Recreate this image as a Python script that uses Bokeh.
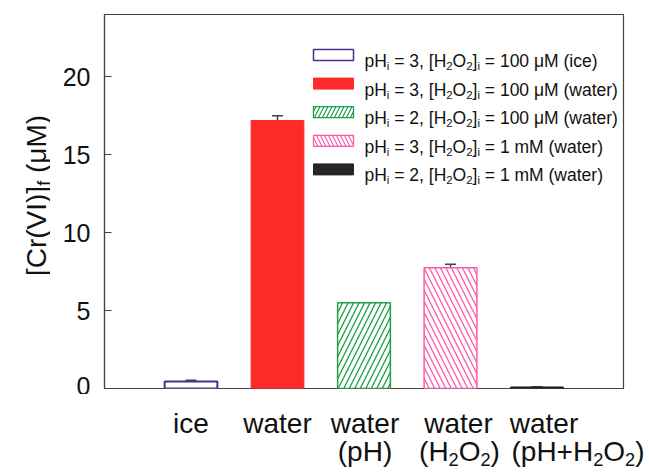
import re
import math
from bokeh.plotting import figure
from bokeh.layouts import column, row
from bokeh.models import ColumnDataSource, Label, Whisker, TeeHead, FixedTicker
from bokeh.embed import file_html
from bokeh.resources import INLINE

# ---------------- data ----------------
categories = ["ice", "water", "water\n(pH)", "water\n(H_{2}O_{2})", "water\n(pH+H_{2}O_{2})"]
cr_vi = [0.45, 17.2, 5.5, 7.75, 0.1]
cr_vi_err = [0.08, 0.3, 0.0, 0.22, 0.02]
legend_labels = [
    "pH_{i} = 3, [H_{2}O_{2}]_{i} = 100 μM (ice)",
    "pH_{i} = 3, [H_{2}O_{2}]_{i} = 100 μM (water)",
    "pH_{i} = 2, [H_{2}O_{2}]_{i} = 100 μM (water)",
    "pH_{i} = 3, [H_{2}O_{2}]_{i} = 1 mM (water)",
    "pH_{i} = 2, [H_{2}O_{2}]_{i} = 1 mM (water)",
]
y_ticks = [0, 5, 10, 15, 20]
y_label = "[Cr(VI)]_{f} (μM)"

# ---------------- styles ----------------
fills = ["white", "#FF2B2B", "white", "white", "#262626"]
lines = ["#4B2D8F", "#FF2B2B", "#1E9E46", "#FF5AAA", "#262626"]
hatches = [" ", " ", "/", "\\", " "]
lwidths = [2.0, 1.0, 1.5, 1.5, 1.0]
AX = "#444444"
TXT = "#111111"
FONT = "Liberation Sans"

W, H = 648, 472
LW = 50            # width of the left strip (y-axis title)
MB = 6             # bottom border of main plot
SHIFT = 9          # measured offset of label anchors in the bottom strip
FL, FR, FT, FB = 104, 623, 14, 388   # frame in page pixels
MH = FB + MB       # main plot height
BH = H - MH        # bottom strip height
XR = (0, 6)
YR = (0, 24)


def px_of_x(x):
    return FL + (x - XR[0]) * (FR - FL) / (XR[1] - XR[0])


def yd(py):
    return YR[1] - (py - FT) * (YR[1] - YR[0]) / (FB - FT)


def xd(px):
    return XR[0] + (px - FL) * (XR[1] - XR[0]) / (FR - FL)


def strip(w, h):
    f = figure(width=w, height=h, output_backend="svg", toolbar_location=None,
               x_axis_type=None, y_axis_type=None, min_border=0,
               min_border_left=0, min_border_right=0, min_border_top=0, min_border_bottom=0,
               x_range=(0, 1), y_range=(0, 1))
    f.outline_line_color = None
    f.background_fill_color = "white"
    f.border_fill_color = "white"
    f.grid.visible = False
    return f


p = figure(width=W - LW, height=MH, x_range=XR, y_range=YR, output_backend="svg",
           toolbar_location=None, x_axis_type=None,
           min_border_left=FL - LW, min_border_right=W - FR,
           min_border_top=FT, min_border_bottom=MB)
p.background_fill_color = "white"
p.border_fill_color = "white"
p.outline_line_color = AX          # frame box; its lower edge is the x baseline
p.outline_line_width = 1.2
p.grid.visible = False

p.yaxis.ticker = FixedTicker(ticks=y_ticks)
p.yaxis.axis_line_color = AX
p.yaxis.axis_line_width = 1.2
p.yaxis.major_tick_in = 7
p.yaxis.major_tick_out = 0
p.yaxis.major_tick_line_color = AX
p.yaxis.major_tick_line_width = 1.2
p.yaxis.minor_tick_line_color = None
p.yaxis.major_label_text_font = FONT
p.yaxis.major_label_text_font_size = "25px"
p.yaxis.major_label_text_color = TXT
p.yaxis.major_label_standoff = 14

xs = list(range(1, len(cr_vi) + 1))
src = ColumnDataSource(dict(x=xs, top=cr_vi, fill=fills, line=lines, hatch=hatches, lw=lwidths))
p.vbar(x="x", top="top", width=0.61, bottom=0, source=src, fill_color="fill",
       line_color="line", line_width="lw", hatch_pattern="hatch", hatch_color="line",
       hatch_scale=11, hatch_weight=1.3)

ex = [x for x, e in zip(xs, cr_vi_err) if e > 0]
elo = [v for v, e in zip(cr_vi, cr_vi_err) if e > 0]
ehi = [v + e for v, e in zip(cr_vi, cr_vi_err) if e > 0]
esrc = ColumnDataSource(dict(x=ex, lower=elo, upper=ehi))
p.add_layout(Whisker(source=esrc, base="x", lower="lower", upper="upper",
                     line_color=AX, line_width=1.5,
                     upper_head=TeeHead(size=11, line_color=AX, line_width=1.5),
                     lower_head=None))

# ---------------- rich text helper ----------------
WID = {' ': 278, '(': 333, ')': 333, '+': 584, ',': 278, '=': 584, '[': 278, ']': 278,
       'C': 722, 'H': 722, 'I': 278, 'M': 833, 'O': 778, 'V': 667,
       'a': 556, 'c': 500, 'e': 556, 'f': 278, 'i': 222, 'm': 833, 'p': 556,
       'r': 333, 't': 278, 'w': 722, 'μ': 576}
for d in "0123456789":
    WID[d] = 556
SUB = 0.65
DROP = 0.28


def parse(s):
    segs = []
    pos = 0
    for m in re.finditer(r"_\{([^}]*)\}", s):
        if m.start() > pos:
            segs.append((s[pos:m.start()], False))
        segs.append((m.group(1), True))
        pos = m.end()
    if pos < len(s):
        segs.append((s[pos:], False))
    return segs


def seg_w(t, fs):
    return sum(WID.get(ch, 556) for ch in t) / 1000.0 * fs


def rich_width(s, size):
    return sum(seg_w(t, size * (SUB if sub else 1)) for t, sub in parse(s))


def add_rich(fig, fx, fb, s, ax, ay, size, rotated=False, color=TXT):
    """fx, fb: page px of the figure frame's left and bottom edge.
    ax, ay: page px of the start of the text baseline."""
    pos = 0.0
    for t, sub in parse(s):
        fs = size * SUB if sub else size
        lead = len(t) - len(t.lstrip(" "))
        txt = t.strip(" ")
        a = pos + lead * 278 / 1000.0 * fs
        dd = DROP * size if sub else 0.0
        if rotated:
            cx, cy = ax + dd, ay - a
        else:
            cx, cy = ax + a, ay + dd
        if txt:
            fig.add_layout(Label(x=cx - fx, y=fb - cy, x_units="screen", y_units="screen",
                                 text=txt, text_font=FONT,
                                 text_font_size=f"{fs:.1f}px", text_color=color,
                                 text_align="left", text_baseline="alphabetic",
                                 angle=(math.pi / 2 if rotated else 0.0)))
        pos += seg_w(t, fs)


# left strip: y-axis title (rotated)
left = strip(LW, MH)
YL_SIZE = 28
yl_w = rich_width(y_label, YL_SIZE)
add_rich(left, 0, MH, y_label, 36, 201 + yl_w / 2, YL_SIZE, rotated=True)

# bottom strip: category labels
bottom = strip(W, BH)
CAT_SIZE = 28
line_base = [432, 460]
offs = [[0, 0], [0, 0], [1, 1], [8, 9], [7, 41]]
for i, cat in enumerate(categories):
    for j, ln in enumerate(cat.split("\n")):
        w = rich_width(ln, CAT_SIZE)
        c = px_of_x(xs[i]) + offs[i][j]
        lx = c - w / 2
        if lx + w > W - 1:
            lx = W - 1 - w
        add_rich(bottom, 0, H + SHIFT, ln, lx, line_base[j], CAT_SIZE)

# legend (inside the main frame)
LG_SIZE = 17.5
row0, step = 54.5, 28.6
rows = [row0 + k * step for k in range(len(legend_labels))]
p.rect(x=[xd(333)] * len(rows), y=[yd(r) for r in rows], width=40, height=11,
       width_units="screen", height_units="screen", fill_color=fills,
       line_color=lines, line_width=[1.5, 1.0, 1.3, 1.3, 1.0], hatch_pattern=hatches,
       hatch_color=lines, hatch_scale=8, hatch_weight=1.2)
for r, lab in zip(rows, legend_labels):
    add_rich(p, FL, FB, lab, 364, r + 6, LG_SIZE)

layout = column(row(left, p), bottom)
open("out.html", "w").write(file_html(layout, INLINE))
